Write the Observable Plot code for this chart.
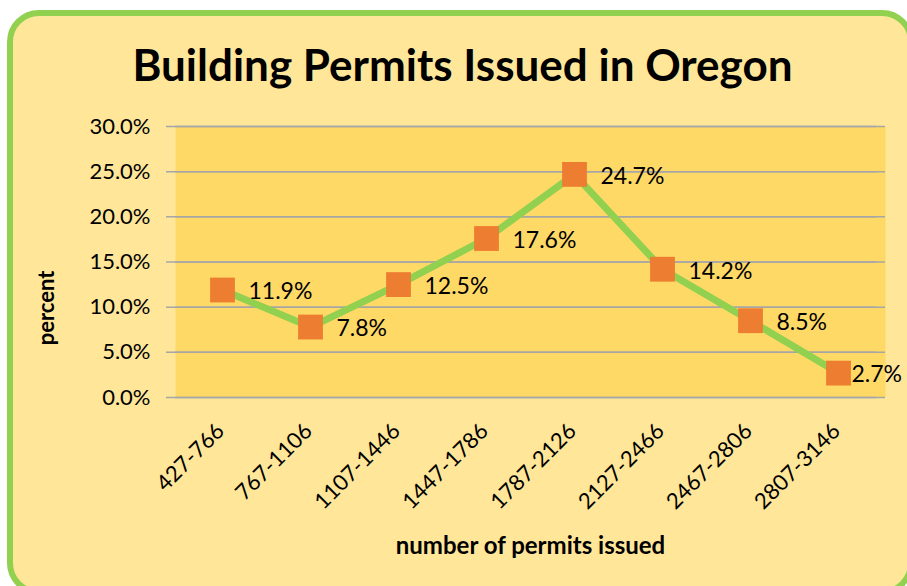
<!DOCTYPE html>
<html>
<head>
<meta charset="utf-8">
<script src="https://cdn.jsdelivr.net/npm/d3@7"></script>
<script src="https://cdn.jsdelivr.net/npm/@observablehq/plot@0.6"></script>
<style>
  html, body { margin: 0; padding: 0; background: #ffffff; width: 907px; height: 586px; overflow: hidden; }
  #frame { position: absolute; left: 7px; top: 10px; width: 895px; height: 573px; border: 6px solid #92D050; border-radius: 32px; background: #FFE699; }
  #title { position: absolute; left: 0; top: 40px; width: 925px; text-align: center; font-family: Lato, sans-serif; font-weight: bold; font-size: 44px; line-height: 1.1; color: #000; }
  #ylabel { position: absolute; left: 46px; top: 308px; transform: translate(-50%, -50%) rotate(-90deg); font-family: Lato, sans-serif; font-weight: bold; font-size: 22px; line-height: 1; white-space: nowrap; color: #000; }
  #chart { position: absolute; left: 0; top: 0; }
</style>
</head>
<body>
<div id="frame"></div>
<div id="title">Building Permits Issued in Oregon</div>
<div id="chart"></div>
<div id="ylabel">percent</div>
<script>
const categories = ["427-766", "767-1106", "1107-1446", "1447-1786", "1787-2126", "2127-2466", "2467-2806", "2807-3146"];
const percents = [11.9, 7.8, 12.5, 17.6, 24.7, 14.2, 8.5, 2.7];
const yTicks = [0, 5, 10, 15, 20, 25, 30];

const data = categories.map((c, i) => ({ range: c, pct: percents[i] }));
const lastRange = categories[categories.length - 1];
const font = "Lato, sans-serif";

const plot = Plot.plot({
  width: 907,
  height: 586,
  marginLeft: 175,
  marginRight: 22,
  marginTop: 126,
  marginBottom: 189,
  style: { background: "transparent", fontFamily: font, fontSize: "22px", color: "#000" },
  x: { type: "point", domain: categories, padding: 0.5, label: null },
  y: { domain: [0, 30], label: null },
  marks: [
    Plot.frame({ fill: "#FFD966", stroke: null }),
    Plot.ruleY(yTicks, { stroke: "#A6A6A6", strokeWidth: 1.5 }),
    Plot.ruleX([0], { frameAnchor: "left", stroke: "#A6A6A6", strokeWidth: 1.5 }),
    Plot.tickY(yTicks, { y: d => d, frameAnchor: "left", dx: -9, stroke: "#A6A6A6", strokeWidth: 1.5 }),
    Plot.axisY({ ticks: yTicks, tickFormat: d => d.toFixed(1) + "%", tickSize: 0, tickPadding: 25, fontSize: 22, label: null }),
    Plot.axisX({ tickSize: 0, tickRotate: -45, tickPadding: 30, fontSize: 22, label: null, textAnchor: "end", dx: -2, dy: 0 }),
    Plot.line(data, { x: "range", y: "pct", stroke: "#92D050", strokeWidth: 7 }),
    Plot.dot(data, { x: "range", y: "pct", symbol: "square", r: 14, fill: "#ED7D31", stroke: null }),
    Plot.text(data.filter(d => d.range !== lastRange), { x: "range", y: "pct", text: d => d.pct.toFixed(1) + "%", textAnchor: "start", dx: 26, dy: 2, fontSize: 23, fill: "#000" }),
    Plot.text(data.filter(d => d.range === lastRange), { x: "range", y: "pct", text: d => d.pct.toFixed(1) + "%", textAnchor: "start", dx: 13, dy: 2, fontSize: 23, fill: "#000" }),
    Plot.text(["number of permits issued"], { frameAnchor: "bottom", dy: 156, fontWeight: "bold", fontSize: 24, fill: "#000" })
  ]
});
document.getElementById("chart").appendChild(plot);
</script>
</body>
</html>
